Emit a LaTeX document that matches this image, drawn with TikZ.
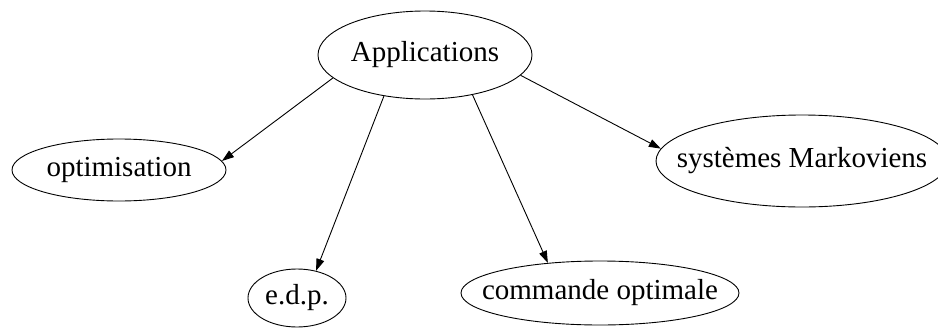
\documentclass[tikz,border=0pt]{standalone}
\usepackage{fontspec}
\setmainfont{Liberation Serif}
\usetikzlibrary{shapes.geometric,arrows.meta}
\begin{document}
\begin{tikzpicture}[x=1pt,y=-1pt,
  gnode/.style={ellipse,draw,line width=0.9pt,inner sep=0pt},
  glabel/.style={inner sep=0pt,font=\fontsize{29}{34}\selectfont},
  gedge/.style={line width=0.9pt,-{Triangle[length=12pt,width=8pt]}}]
\useasboundingbox (0,0) rectangle (938,327);
\node[gnode,minimum width=214pt,minimum height=88pt] (app) at (425,55) {};
\node[gnode,minimum width=214pt,minimum height=62pt] (opt) at (119,170) {};
\node[gnode,minimum width=98pt,minimum height=58pt] (edp) at (297,298) {};
\node[gnode,minimum width=278pt,minimum height=64pt] (com) at (600,293) {};
\node[gnode,minimum width=292pt,minimum height=92pt] (sys) at (802,161) {};
\node[glabel] (appt) at (app.center) {Applications};
\node[glabel] (optt) at (opt.center) {optimisation};
\node[glabel] (edpt) at (edp.center) {e.d.p.};
\node[glabel] (comt) at (com.center) {commande optimale};
\node[glabel] (syst) at (sys.center) {systèmes Markoviens};
\draw[gedge] (app.194.7) -- (opt.5.5);
\draw[gedge] (app.225.7) -- (edp.55);
\draw[gedge] (app.320.6) -- (com.150);
\draw[gedge] (app.348.5) -- (sys.175.6);
\end{tikzpicture}
\end{document}
